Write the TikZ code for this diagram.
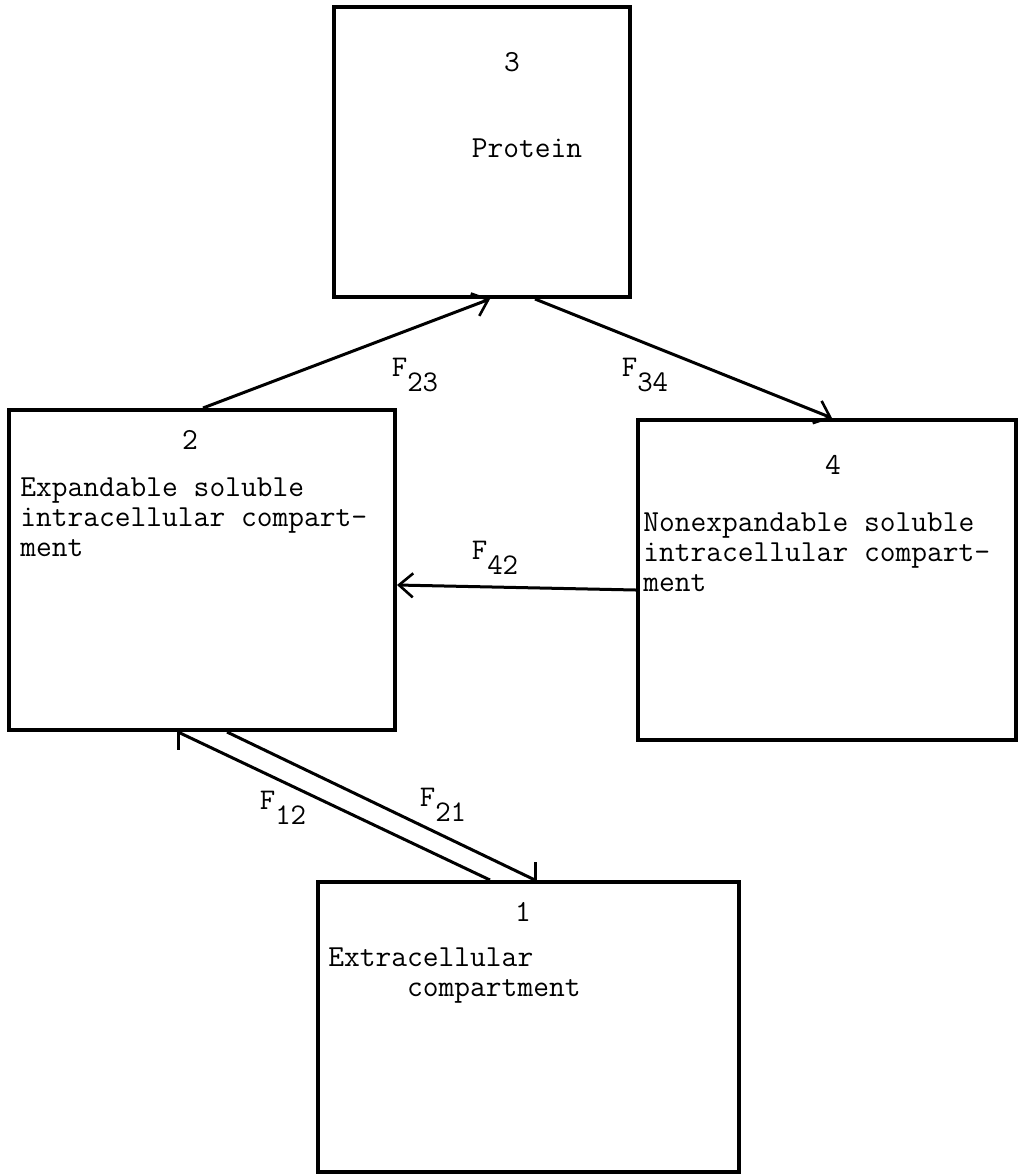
\documentclass[tikz,border=0pt]{standalone}
\usepackage{amsmath}
\usetikzlibrary{arrows.meta}

\tikzset{
  compbox/.style={draw, line width=2pt, anchor=north west, inner sep=0pt},
  boxtext/.style={font=\ttfamily\fontsize{15.3}{15}\selectfont, inner sep=0pt},
  flow/.style={line width=1.5pt, -{Straight Barb[length=7pt,width=12pt,line width=1.3pt]}},
  duct/.style={line width=1.5pt},
  rate/.style={font=\ttfamily\fontsize{15}{15}\selectfont, inner sep=0pt},
}
\newcommand{\rateF}[1]{F\raisebox{-0.5em}{#1}}

\begin{document}
\begin{tikzpicture}[x=0.5pt,y=-0.5pt]
    \useasboundingbox (0,0) rectangle (1018,1175);
    % compartments
    \node[compbox, minimum width=148pt, minimum height=145pt] (b3) at (332,5) {};
    \node[compbox, minimum width=193pt, minimum height=160pt] (b2) at (7,408) {};
    \node[compbox, minimum width=189pt, minimum height=160pt] (b4) at (636,418) {};
    \node[compbox, minimum width=210.5pt, minimum height=145pt] (b1) at (316,880) {};
    % box texts
    \node[boxtext] (n3) at (512,62) {3};
    \node[boxtext] (t3) at (527,148) {Protein};
    \node[boxtext] (n2) at (190,440) {2};
    \node[boxtext, anchor=north west, align=left] (t2) at (20,477) {Expandable soluble\\intracellular compart-\\ment};
    \node[boxtext] (n4) at (833,465) {4};
    \node[boxtext, anchor=north west, align=left] (t4) at (643,512) {Nonexpandable soluble\\intracellular compart-\\ment};
    \node[boxtext] (n1) at (523,912) {1};
    \node[boxtext, anchor=north west, align=left] (t1) at (328,947) {Extracellular\\\hphantom{xxxxx}compartment};
    % flows
    \draw[flow] ([xshift=98pt]b2.north west) -- ([xshift=79pt]b3.south west);
    \draw[flow] ([xshift=101.5pt]b3.south west) -- ([xshift=98pt]b4.north west);
    \draw[flow] ([yshift=-5pt]b4.west) -- ([yshift=-7.5pt]b2.east);
    % exchange with extracellular
    \draw[duct] ([xshift=85.5pt]b2.south west) coordinate (d12) -- ([xshift=87pt]b1.north west);
    \draw[duct] (d12) -- ++(0,18);
    \draw[duct] ([xshift=110pt]b2.south west) -- ([xshift=109.5pt]b1.north west) coordinate (d21);
    \draw[duct] (d21) -- ++(0,-18);
    % rate labels
    \node[rate] (f23) at (415,375) {\rateF{23}};
    \node[rate] (f34) at (645,375) {\rateF{34}};
    \node[rate] (f42) at (495,558) {\rateF{42}};
    \node[rate] (f12) at (283,808) {\rateF{12}};
    \node[rate] (f21) at (443,805) {\rateF{21}};
\end{tikzpicture}
\end{document}
